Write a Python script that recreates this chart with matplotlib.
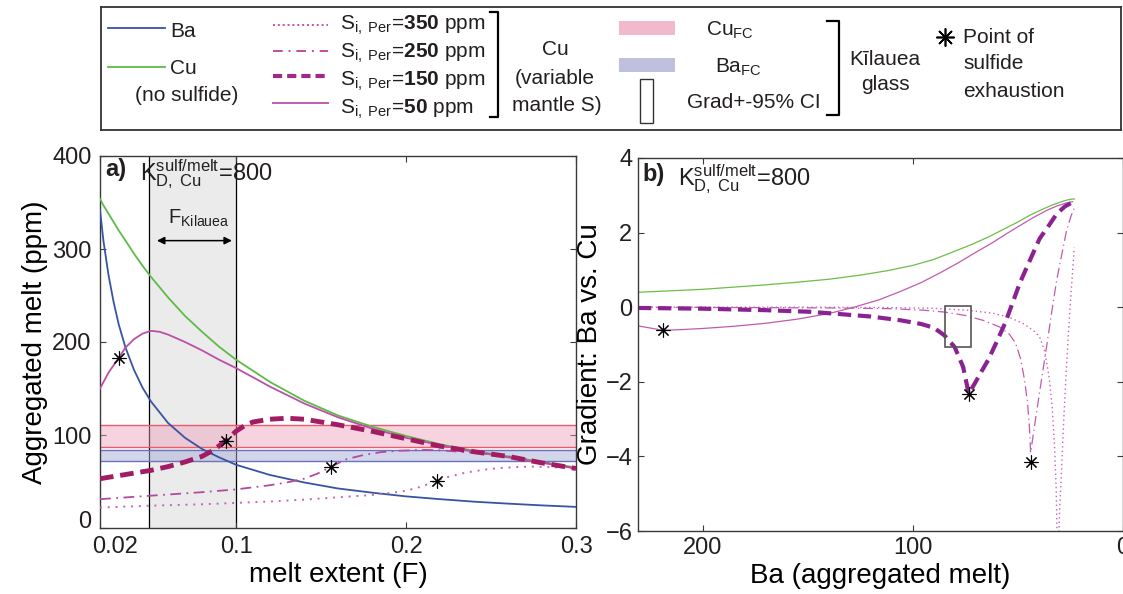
import matplotlib
matplotlib.use('Agg')
import matplotlib.pyplot as plt
import matplotlib.transforms as mtransforms
from matplotlib.patches import Rectangle

plt.rcParams['font.family'] = ['Liberation Sans', 'DejaVu Sans']
plt.rcParams['mathtext.fontset'] = 'custom'
plt.rcParams['mathtext.rm'] = 'Liberation Sans'
plt.rcParams['mathtext.bf'] = 'Liberation Sans:bold'
plt.rcParams['mathtext.it'] = 'Liberation Sans:italic'
plt.rcParams['text.color'] = '#231f20'

# ---- panel a: aggregated melt vs melt extent ----
F_grid = [0.02, 0.022, 0.025, 0.028, 0.031, 0.035, 0.04, 0.045, 0.05, 0.06, 0.07, 0.08,
          0.09, 0.10, 0.12, 0.14, 0.16, 0.18, 0.20, 0.22, 0.24, 0.26, 0.28, 0.30]
ba_melt = [342, 309, 272, 243, 219, 194, 170, 151, 136, 113, 97, 85,
           76, 68, 57, 49, 42.5, 38, 34, 31, 28.3, 26.2, 24.3, 22.7]
cu_nosulf = [354, 347, 338, 329, 320, 309, 295, 282, 270, 248, 228, 211,
             195, 181, 157, 137, 121, 109, 99, 90, 83, 77, 71, 65]

F_s50 = [0.02, 0.025, 0.031, 0.035, 0.04, 0.045, 0.05, 0.055, 0.06, 0.07, 0.08, 0.09,
         0.10, 0.12, 0.14, 0.16, 0.18, 0.20, 0.22, 0.24, 0.26, 0.28, 0.30]
cu_s50 = [150, 167, 183, 194, 203, 209, 212, 211, 208, 200, 191, 181,
          172, 152, 134, 119, 107, 97, 89, 82, 76, 70, 64]

F_s150 = [0.02, 0.03, 0.04, 0.05, 0.06, 0.07, 0.08, 0.087, 0.094, 0.10, 0.105, 0.11,
          0.12, 0.13, 0.14, 0.16, 0.18, 0.20, 0.22, 0.24, 0.26, 0.28, 0.30]
cu_s150 = [53, 56, 59, 62, 66, 71, 77, 84, 94, 104, 110, 114,
           117, 118, 117, 111, 104, 96, 88, 82, 77, 70, 64]

F_s250 = [0.02, 0.04, 0.06, 0.08, 0.10, 0.12, 0.13, 0.14, 0.148, 0.156, 0.165, 0.175,
          0.185, 0.195, 0.21, 0.22, 0.24, 0.26, 0.28, 0.30]
cu_s250 = [31, 33.5, 36, 38.5, 41.5, 46, 49, 53, 58.5, 66, 74, 78.5,
           81.5, 83, 84, 83.5, 81, 77, 71, 64]

F_s350 = [0.02, 0.05, 0.08, 0.10, 0.12, 0.14, 0.16, 0.18, 0.19, 0.20, 0.21, 0.218,
          0.225, 0.235, 0.245, 0.255, 0.265, 0.275, 0.285, 0.30]
cu_s350 = [22, 24, 25.5, 27, 28.5, 30.5, 33, 35.5, 37.5, 40, 45, 51,
           55, 59.5, 62.5, 64.5, 65.5, 66, 65.5, 64]

F_exhaust = [0.031, 0.094, 0.156, 0.218]
cu_exhaust = [183, 94, 66, 51]

F_kilauea = [0.049, 0.10]
cu_fc = [87, 111]
ba_fc = [72, 84]

# ---- panel b: gradient vs Ba ----
ba_g0 = [231, 215, 200, 185, 170, 155, 140, 125, 112, 100, 90, 80, 72, 64, 57, 50, 44, 38,
         33, 29, 26, 24, 22.9]
gr_g0 = [0.40, 0.44, 0.48, 0.54, 0.60, 0.67, 0.75, 0.86, 0.98, 1.12, 1.28, 1.50, 1.68, 1.88,
         2.08, 2.28, 2.47, 2.63, 2.75, 2.83, 2.88, 2.90, 2.90]

ba_g50 = [231, 225, 219, 210, 200, 185, 170, 155, 140, 128, 116, 106, 96, 87, 78, 70, 62, 55,
          48, 42, 36, 31, 27, 23.8]
gr_g50 = [-0.50, -0.56, -0.62, -0.60, -0.57, -0.51, -0.43, -0.32, -0.17, 0.0, 0.2, 0.42, 0.66,
          0.92, 1.2, 1.47, 1.73, 1.98, 2.22, 2.42, 2.6, 2.72, 2.79, 2.83]

ba_g150 = [231, 200, 170, 150, 138, 120, 106, 96, 90, 85, 80, 76, 73.3, 70, 67, 64, 60, 56, 52,
           49, 45, 39.5, 35, 31.4, 27.5, 24.3]
gr_g150 = [-0.02, -0.04, -0.08, -0.12, -0.17, -0.25, -0.35, -0.45, -0.55, -0.75, -1.07, -1.6,
           -2.32, -2.0, -1.7, -1.41, -0.93, -0.43, 0.18, 0.64, 1.15, 1.84, 2.2, 2.5, 2.7, 2.8]

ba_g250 = [231, 180, 140, 110, 95, 85, 75, 66, 58.6, 54, 51, 48.5, 46.7, 45.2, 44.3, 43.8, 42.5,
           41, 38.5, 36.2, 33.8, 31.4, 29, 26.7, 24.5, 22.9]
gr_g250 = [0.0, -0.01, -0.02, -0.04, -0.08, -0.13, -0.22, -0.36, -0.53, -0.72, -0.96, -1.4, -1.95,
           -2.6, -3.28, -3.9, -3.4, -2.83, -1.9, -1.06, -0.15, 0.72, 1.4, 2.05, 2.45, 2.67]

ba_g350 = [231, 150, 110, 90, 74, 62, 54, 47, 42, 39.5, 37, 34.8, 33.5, 32.4, 31.6, 31.0,
           30.6, 30.0, 29.0, 28.0, 27.0, 26.0, 25.0, 24.0, 23.0]
gr_g350 = [0.0, 0.0, -0.01, -0.03, -0.08, -0.16, -0.27, -0.45, -0.65, -0.8, -1.2, -1.95, -2.7,
           -3.73, -4.9, -6.6, -6.6, -5.5, -4.3, -3.0, -1.9, -0.9, 0.0, 0.8, 1.6]

ba_exhaust = [219, 73.3, 43.8]
gr_exhaust = [-0.62, -2.32, -4.16]

ba_ci = [72.4, 84.8]
gr_ci = [-1.07, 0.03]

W, H = 1123, 594
fig = plt.figure(figsize=(W / 100, H / 100), dpi=100)


def fbox(x0, y0, x1, y1):
    # pixel box -> figure fraction rect
    return [x0 / W, 1 - y1 / H, (x1 - x0) / W, (y1 - y0) / H]


def nudge(label, dx, dy):
    # shift a tick label by dx, dy pixels (right / up)
    label.set_transform(label.get_transform() +
                        mtransforms.ScaledTranslation(dx / 100, dy / 100, fig.dpi_scale_trans))


spine_c = '#3a3a3a'
blue = '#3953a4'
green = '#5dbb46'
mag = '#bc4fa6'
crimson = '#a21c64'
purple = '#8b2291'
star = dict(marker=(8, 2, 0), ms=10, mew=0.8, color='k', ls='none', zorder=10)

# ---------------- panel a ----------------
ax = fig.add_axes(fbox(100, 156, 576, 528))
ax.axvspan(F_kilauea[0], F_kilauea[1], color='#ebebeb', zorder=0)
for f in F_kilauea:
    ax.axvline(f, color='k', lw=0.9, zorder=1)
ax.axhspan(cu_fc[0], cu_fc[1], color='#ee9dba', alpha=0.45, lw=0, zorder=2)
ax.axhspan(ba_fc[0], ba_fc[1], color='#a9acd6', alpha=0.5, lw=0, zorder=2)
for v in cu_fc:
    ax.axhline(v, color='#ee5a6a', lw=1.0, zorder=2)
for v in ba_fc:
    ax.axhline(v, color='#6b74b8', lw=1.0, zorder=2)

ax.plot(F_grid, ba_melt, color=blue, lw=1.3, zorder=4)
ax.plot(F_grid, cu_nosulf, color=green, lw=1.3, zorder=4)
ax.plot(F_s50, cu_s50, color=mag, lw=1.3, zorder=4)
ax.plot(F_s150, cu_s150, color=crimson, lw=3.5, ls=(0, (2.8, 1.4)), zorder=5)
ax.plot(F_s250, cu_s250, color='#b24ba0', lw=1.3, ls=(0, (6, 3, 1, 3)), zorder=4)
ax.plot(F_s350, cu_s350, color='#c763b0', lw=1.4, ls=(0, (1, 3)), zorder=4)
ax.plot(F_exhaust, cu_exhaust, **star)

ax.set_xlim(0.02, 0.30)
ax.set_ylim(0, 400)
ax.set_xticks([0.02, 0.1, 0.2, 0.3])
ax.set_xticklabels(['0.02', '0.1', '0.2', '0.3'])
ax.set_yticks([0, 100, 200, 300, 400])
ax.tick_params(direction='in', top=True, right=True, length=4, width=0.8,
               labelsize=17, pad=6, colors=spine_c, labelcolor='#231f20')
for s in ax.spines.values():
    s.set_color(spine_c)
    s.set_linewidth(1.0)
ax.set_xlabel('melt extent (F)', fontsize=20, labelpad=3)
ax.set_ylabel('Aggregated melt (ppm)', fontsize=20, labelpad=3)
nudge(ax.get_xticklabels()[0], 15, 0)
nudge(ax.get_yticklabels()[0], 0, 8)

ax.annotate('', xy=(0.0535, 309), xytext=(0.0976, 309),
            arrowprops=dict(arrowstyle='<|-|>', color='k', lw=1.1, mutation_scale=11,
                            shrinkA=0, shrinkB=0))
ax.text(0.06, 327, r'F$_{\rm Kilauea}$', fontsize=14.5, va='baseline', ha='left')

fig.text(105 / W, 1 - 176 / H, 'a)', fontsize=17, fontweight='bold', va='baseline')
fig.text(140 / W, 1 - 180 / H, r'K$^{\rm sulf/melt}_{\rm D,\ Cu}$=800', fontsize=17,
         va='baseline')

# ---------------- panel b ----------------
bx = fig.add_axes(fbox(638, 158, 1122.5, 531))
bx.plot(ba_g0, gr_g0, color='#6cbe45', lw=0.9)
bx.plot(ba_g50, gr_g50, color='#c05bae', lw=0.9)
bx.plot(ba_g250, gr_g250, color='#c05bae', lw=0.9, ls=(0, (8, 3, 1, 3)))
bx.plot(ba_g350, gr_g350, color='#c763b0', lw=1.0, ls=(0, (1, 2.2)))
bx.plot(ba_g150, gr_g150, color=purple, lw=3.0, ls=(0, (3.2, 1.6)))
bx.add_patch(Rectangle((ba_ci[0], gr_ci[0]), ba_ci[1] - ba_ci[0], gr_ci[1] - gr_ci[0],
                       fill=False, ec='#555555', lw=1.2, zorder=6))
bx.plot(ba_exhaust, gr_exhaust, **star)

bx.set_xlim(231, 0)
bx.set_ylim(-6, 4)
bx.set_xticks([200, 100, 0])
bx.set_yticks([-6, -4, -2, 0, 2, 4])
bx.tick_params(direction='in', top=True, right=True, length=4, width=0.8,
               labelsize=17, pad=4, colors=spine_c, labelcolor='#231f20')
for s in bx.spines.values():
    s.set_color(spine_c)
    s.set_linewidth(1.0)
bx.set_xlabel('Ba (aggregated melt)', fontsize=20, labelpad=3)
bx.set_ylabel('Gradient: Ba vs. Cu', fontsize=20, labelpad=2)

fig.text(642 / W, 1 - 181 / H, 'b)', fontsize=17, fontweight='bold', va='baseline')
fig.text(678 / W, 1 - 185 / H, r'K$^{\rm sulf/melt}_{\rm D,\ Cu}$=800', fontsize=17,
         va='baseline')

# ---------------- legend box ----------------
lg = fig.add_axes(fbox(101, 7, 1121, 130))
lg.set_xlim(101, 1121)
lg.set_ylim(130, 7)
lg.set_xticks([])
lg.set_yticks([])
for s in lg.spines.values():
    s.set_color('#333333')
    s.set_linewidth(1.3)
fs = 15

lg.plot([108, 165], [28, 28], color=blue, lw=1.3)
lg.text(170, 37, 'Ba', fontsize=fs, va='baseline')
lg.plot([108, 165], [67, 67], color=green, lw=1.3)
lg.text(170, 74, 'Cu', fontsize=fs, va='baseline')
lg.text(187, 101, '(no sulfide)', fontsize=fs, va='baseline', ha='center')

s_rows = [(25, 30, '350', '#c94fa6', 1.4, (0, (1, 1.5))),
          (51, 58, '250', '#c04da0', 1.4, (0, (5, 3, 1, 3))),
          (76, 86, '150', '#9e2a8c', 3.0, (0, (2.2, 1.2))),
          (103, 114, '50', '#c05bae', 1.4, '-')]
for yl, yt, val, c, lw, ls in s_rows:
    lg.plot([273, 328], [yl, yl], color=c, lw=lw, ls=ls)
    lg.text(340, yt, r'S$_{\rm i,\ Per}$=$\bf{' + val + '}$ ppm', fontsize=fs, va='baseline')

lg.plot([490, 498, 498, 490], [12, 12, 117, 117], color='k', lw=1.6)
lg.text(555, 55, 'Cu', fontsize=fs, va='baseline', ha='center')
lg.text(555, 84, '(variable', fontsize=fs, va='baseline', ha='center')
lg.text(557, 111, 'mantle S)', fontsize=fs, va='baseline', ha='center')

lg.add_patch(Rectangle((619, 21), 56, 14, color='#f2b8cb', lw=0))
lg.text(706, 36, r'Cu$_{\rm FC}$', fontsize=fs, va='baseline')
lg.add_patch(Rectangle((619, 58), 56, 14, color='#bfc0de', lw=0))
lg.text(715, 73, r'Ba$_{\rm FC}$', fontsize=fs, va='baseline')
lg.add_patch(Rectangle((640, 79), 13, 44, fill=False, ec='#333333', lw=1.0))
lg.text(687, 108, 'Grad+-95% CI', fontsize=fs, va='baseline')

lg.plot([827, 839, 839, 827], [21, 21, 115, 115], color='k', lw=1.6)
lg.text(885, 65, 'Kīlauea', fontsize=fs, va='baseline', ha='center')
lg.text(885, 90, 'glass', fontsize=fs, va='baseline', ha='center')

lg.plot([945], [37], marker=(8, 2, 0), ms=13, mew=1.2, color='k')
lg.text(963, 43, 'Point of', fontsize=fs, va='baseline')
lg.text(963, 69, 'sulfide', fontsize=fs, va='baseline')
lg.text(963, 97, 'exhaustion', fontsize=fs, va='baseline')

fig.savefig('out.png', dpi=100)
